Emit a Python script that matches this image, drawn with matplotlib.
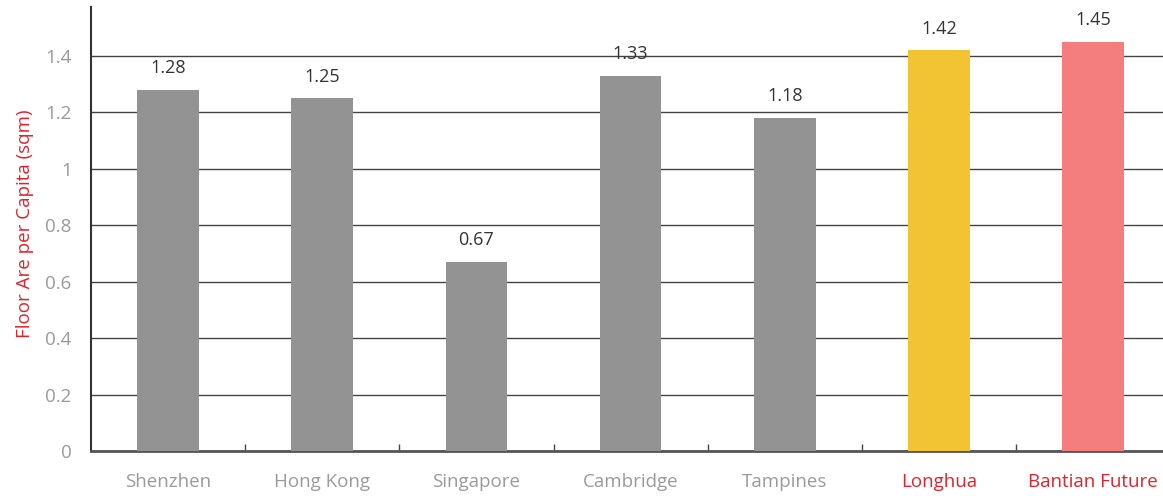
import matplotlib
matplotlib.use("Agg")
import matplotlib.pyplot as plt
import numpy as np

categories = ["Shenzhen", "Hong Kong", "Singapore", "Cambridge", "Tampines", "Longhua", "Bantian Future"]
values = [1.28, 1.25, 0.67, 1.33, 1.18, 1.42, 1.45]
bar_colors = ["#939393", "#939393", "#939393", "#939393", "#939393", "#f2c433", "#f47d7d"]
label_colors = ["#9a9a9a", "#9a9a9a", "#9a9a9a", "#9a9a9a", "#9a9a9a", "#e0232d", "#e0232d"]
yticks = [0, 0.2, 0.4, 0.6, 0.8, 1.0, 1.2, 1.4]
ytick_labels = ["0", "0.2", "0.4", "0.6", "0.8", "1", "1.2", "1.4"]

plt.rcParams['font.family'] = ['Open Sans', 'DejaVu Sans']

W, H = 1163, 496
fig = plt.figure(figsize=(W / 100, H / 100), dpi=100)
left_px, right_px = 91, 1170.2
bottom_px, top_px = 45, 489
ax = fig.add_axes([left_px / W, bottom_px / H, (right_px - left_px) / W, (top_px - bottom_px) / H])

x = np.arange(len(categories))
ax.bar(x, values, width=0.40, color=bar_colors, zorder=3)
for xi, v in zip(x, values):
    ax.text(xi, v + 0.045, f"{v:.2f}", ha="center", va="bottom", fontsize=13, color="#333333", zorder=4)

ax.set_xlim(-0.5, len(categories) - 0.5)
ax.set_ylim(0, 1.574)
ax.set_yticks(yticks)
ax.set_yticklabels(ytick_labels, fontsize=13.5, color="#9a9a9a")
ax.set_xticks(x)
ax.set_xticklabels(categories, fontsize=13.5)
for lbl, c in zip(ax.get_xticklabels(), label_colors):
    lbl.set_color(c)
ax.tick_params(axis="x", length=0, pad=16)
ax.tick_params(axis="y", length=0, pad=14)
ax.set_xticks(np.arange(0.5, len(categories) - 0.5, 1.0), minor=True)
ax.tick_params(axis="x", which="minor", direction="in", length=5, width=1, color="#444444")

ax.yaxis.grid(True, color="#444444", linewidth=1.0, zorder=0)
ax.set_axisbelow(True)

for s in ["top", "right"]:
    ax.spines[s].set_visible(False)
ax.spines["left"].set_color("#333333")
ax.spines["left"].set_linewidth(1.5)
ax.spines["bottom"].set_color("#555555")
ax.spines["bottom"].set_linewidth(2)

ax.set_ylabel("Floor Are per Capita (sqm)", fontsize=13.5, color="#e0232d")
ax.yaxis.set_label_coords((34 - left_px) / (right_px - left_px), (452 - 225) / (top_px - bottom_px))

fig.savefig("out.png", dpi=100)
